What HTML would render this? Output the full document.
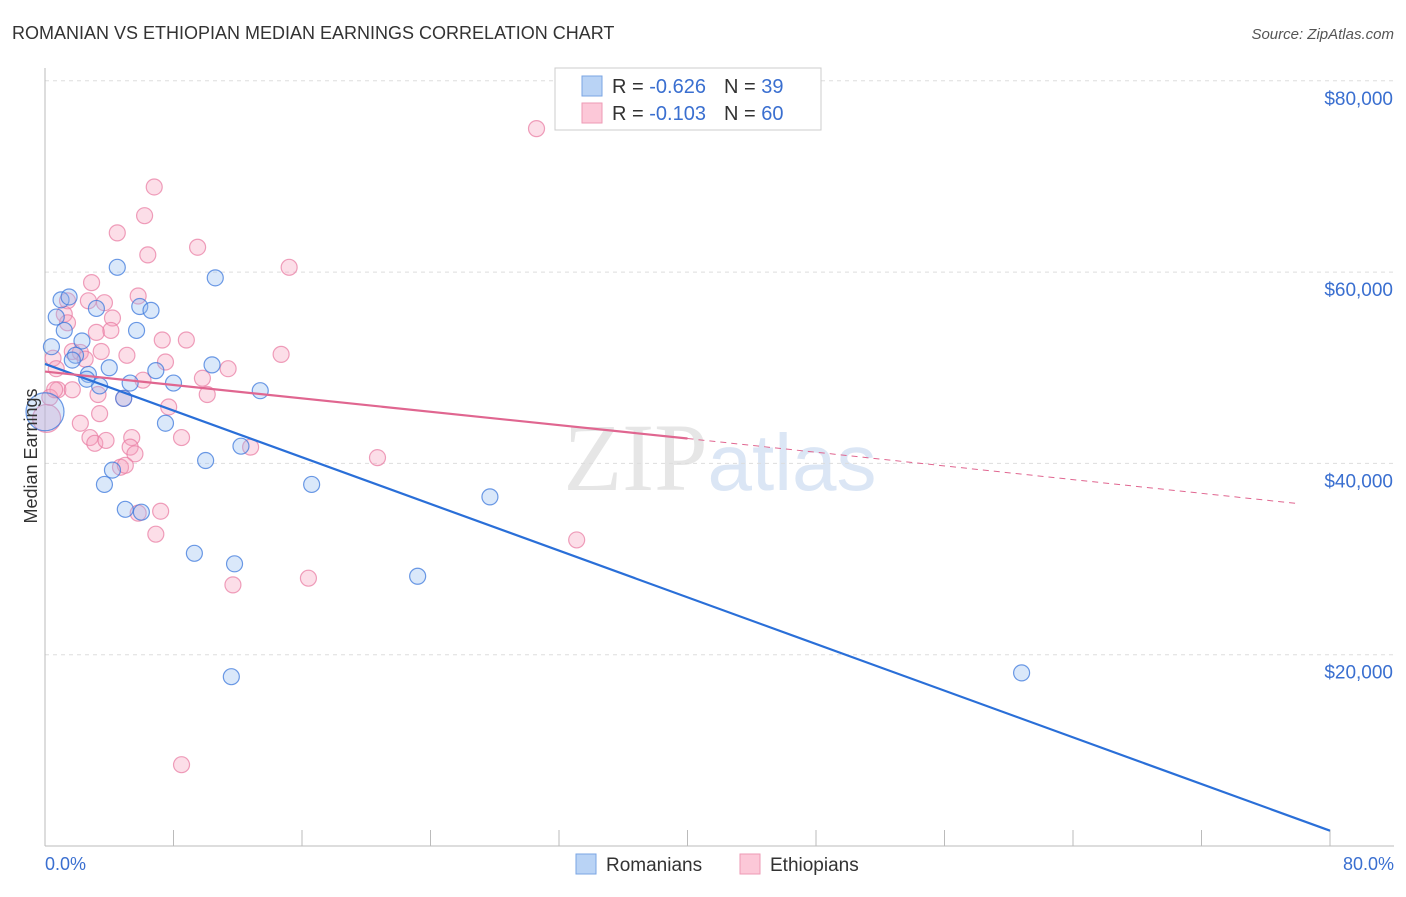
<!DOCTYPE html>
<html><head><meta charset="utf-8"><style>
body{margin:0;background:#fff;font-family:"Liberation Sans",sans-serif}
svg text{font-family:"Liberation Sans",sans-serif}
</style></head><body>
<svg id="c" width="1406" height="892" xmlns="http://www.w3.org/2000/svg">
<text x="12" y="39" font-size="18" fill="#333">ROMANIAN VS ETHIOPIAN MEDIAN EARNINGS CORRELATION CHART</text>
<text x="1394" y="39" font-size="15" fill="#555" font-style="italic" text-anchor="end">Source: ZipAtlas.com</text>
<text x="720" y="490" font-size="96" fill="#e6e6e6" text-anchor="middle" font-family="Liberation Serif"><tspan font-family="Liberation Serif">ZIP</tspan><tspan fill="#dbe6f5" font-family="Liberation Sans" font-size="80">atlas</tspan></text>
<g id="grid"></g>
<g id="marks"></g>
<text x="37" y="456" font-size="18" fill="#333" text-anchor="middle" transform="rotate(-90 37 456)">Median Earnings</text>
<text x="45" y="870" font-size="18" fill="#3a6fd0">0.0%</text>
<text x="1394" y="870" font-size="18" fill="#3a6fd0" text-anchor="end">80.0%</text>
<g>
<rect x="555" y="68" width="266" height="62" fill="#fff" stroke="#ccc"/>
<rect x="582" y="76" width="20" height="20" fill="#b9d3f5" stroke="#7aa5e3"/>
<rect x="582" y="103" width="20" height="20" fill="#fcc8d8" stroke="#ee9ab5"/>
<text x="612" y="93" font-size="20" fill="#333">R = <tspan fill="#3a6fd0">-0.626</tspan><tspan dx="18">N = </tspan><tspan fill="#3a6fd0">39</tspan></text>
<text x="612" y="120" font-size="20" fill="#333">R = <tspan fill="#3a6fd0"> -0.103</tspan><tspan dx="18">N = </tspan><tspan fill="#3a6fd0">60</tspan></text>
</g>
<g>
<rect x="576" y="854" width="20" height="20" fill="#b9d3f5" stroke="#7aa5e3"/>
<text x="606" y="871" font-size="19" fill="#333">Romanians</text>
<rect x="740" y="854" width="20" height="20" fill="#fcc8d8" stroke="#ee9ab5"/>
<text x="770" y="871" font-size="19" fill="#333">Ethiopians</text>
</g>
</svg>
<script>
const yTicks=[20000,40000,60000,80000];
const yTickLabels=["$20,000","$40,000","$60,000","$80,000"];
const xTicks=[0,8,16,24,32,40,48,56,64,72,80];
const romX=[4.5,10.6,1,1.5,0.7,3.2,5.9,6.6,1.2,5.7,0.4,2.3,1.9,1.7,4,2.7,6.9,10.4,3.4,5.3,8,4.9,13.4,7.5,10,12.2,4.2,3.7,16.6,27.7,5,6,9.3,11.8,23.2,11.6,60.8,0,2.6];
const romY=[60.5,59.4,57.1,57.4,55.3,56.2,56.4,56,53.9,53.9,52.2,52.8,51.3,50.8,50,49.3,49.7,50.3,48.1,48.4,48.4,46.8,47.6,44.2,40.3,41.8,39.3,37.8,37.8,36.5,35.2,34.9,30.6,29.5,28.2,17.7,18.1,45.4,48.8];
const romBig=[0,0,0,0,0,0,0,0,0,0,0,0,0,0,0,0,0,0,0,0,0,0,0,0,0,0,0,0,0,0,0,0,0,0,0,0,0,1,0];
const ethX=[30.6,6.8,6.2,4.5,9.5,6.4,15.2,2.9,1.4,2.7,3.7,5.8,1.2,1.4,4.2,3.2,4.1,8.8,7.3,1.7,3.5,5.1,14.7,7.5,0.5,2.2,0.7,11.4,9.8,0.8,1.7,6.1,0.3,3.3,4.9,7.7,10.1,3.4,8.5,2.2,2.8,3.1,3.8,5.4,5.3,5.6,12.8,20.7,4.7,5,7.2,5.8,6.9,33.1,16.4,11.7,8.5,0.1,0.6,2.5];
const ethY=[75,68.9,65.9,64.1,62.6,61.8,60.5,58.9,57,57,56.8,57.5,55.6,54.7,55.2,53.7,53.9,52.9,52.9,51.7,51.7,51.3,51.4,50.6,51,51.6,49.9,49.9,48.9,47.7,47.7,48.7,46.9,47.2,46.8,45.9,47.2,45.2,42.7,44.2,42.7,42.1,42.4,42.7,41.7,41,41.7,40.6,39.6,39.8,35,34.8,32.6,32,28,27.3,8.5,44.7,47.7,50.9];
const ethBig=ethX.map((_,i)=>i===57?1:0);
const X0=45,X1=1330,Y0=846;
const sx=v=>X0+(v/80)*(X1-X0);
const sy=v=>Y0-v*191.3/20;
const NS="http://www.w3.org/2000/svg";
const grid=document.getElementById('grid'),marks=document.getElementById('marks');
function mk(tag,attrs,parent){const e=document.createElementNS(NS,tag);for(const k in attrs)e.setAttribute(k,attrs[k]);parent.appendChild(e);return e;}
yTicks.forEach((t,i)=>{
  const l=mk('line',{x1:45,x2:1394,y1:sy(t/1000),y2:sy(t/1000),stroke:'#ddd','stroke-dasharray':'4 4'},grid);
  
  
  const tx=mk('text',{x:1393,y:sy(t/1000)+24,'font-size':19,fill:'#3a6fd0','text-anchor':'end'},grid);
  tx.textContent=yTickLabels[i];
  
  
});
mk('line',{x1:1394,x2:1394,y1:80,y2:80,stroke:'#ddd'},grid);
const ax=mk('line',{x1:45,x2:45,y1:68,y2:846,stroke:'#bbb'},grid);


const bx=mk('line',{x1:45,x2:1394,y1:846,y2:846,stroke:'#bbb'},grid);


xTicks.forEach(t=>{
  const l=mk('line',{x1:sx(t),x2:sx(t),y1:830,y2:846,stroke:'#bbb'},grid);
  
  
});
ethX.forEach((x,i)=>{
  const c=mk('circle',{cx:sx(x),cy:sy(ethY[i]),r:ethBig[i]?14:8,fill:'rgba(246,160,190,0.35)',stroke:'rgba(232,120,160,0.7)','stroke-width':1.2},marks);
  
  
});
romX.forEach((x,i)=>{
  const c=mk('circle',{cx:sx(x),cy:sy(romY[i]),r:romBig[i]?19:8,fill:'rgba(150,190,240,0.35)',stroke:'rgba(60,120,220,0.75)','stroke-width':1.2},marks);
  
  
});
const bl=mk('line',{x1:sx(0),y1:sy(50.4),x2:sx(80),y2:sy(1.6),stroke:'#2a6fd8','stroke-width':2.2},marks);


const pl=mk('line',{x1:sx(0),y1:sy(49.6),x2:sx(40),y2:sy(42.6),stroke:'#e06690','stroke-width':2.2},marks);


const pd=mk('line',{x1:sx(40),y1:sy(42.6),x2:sx(78),y2:sy(35.8),stroke:'#e06690','stroke-width':1,'stroke-dasharray':'6 5'},marks);


</script>
</body></html>
